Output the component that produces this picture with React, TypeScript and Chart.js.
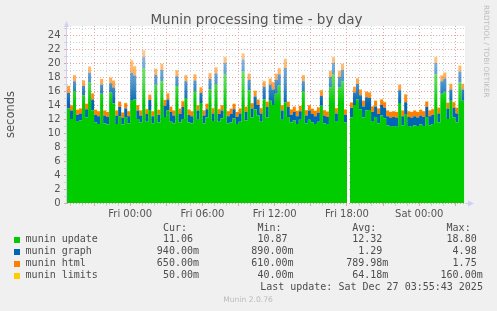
import React, { useEffect, useRef } from 'react';
import { Chart, registerables } from 'chart.js';

Chart.register(...registerables);

// Samples every 15 minutes, starting Thu 18:45 (minutes relative to Fri 00:00)
const START_MIN = -315;
const STEP_MIN = 15;
const X_MIN = -315;
const X_MAX = 1668;

const X_LABEL_VALUES = [0, 360, 720, 1080, 1440];
const X_LABELS = ['Fri 00:00', 'Fri 06:00', 'Fri 12:00', 'Fri 18:00', 'Sat 00:00'];

const SERIES_NAMES = ['munin update', 'munin graph', 'munin html', 'munin limits'];
const SERIES_RGB = [
  [0, 204, 0],
  [0, 102, 179],
  [255, 128, 0],
  [255, 204, 0],
];

const CUR = ['11.06 ', '940.00m', '650.00m', '50.00m'];
const MIN = ['10.87 ', '890.00m', '610.00m', '40.00m'];
const AVG = ['12.32 ', '1.29 ', '789.98m', '64.18m'];
const MAX = ['18.80 ', '4.98 ', '1.75 ', '160.00m'];
const LAST_UPDATE = 'Last update: Sat Dec 27 03:55:43 2025';

// seconds (null = unknown sample)
const UPDATE = [
  13.5, 12.0, 16.0, 11.6, 11.8, 15.4, 12.2, 17.2, 13.2, 11.5,
  11.3, 15.6, 11.4, 11.2, 15.8, 14.2, 11.3, 12.4, 11.2, 12.3,
  11.4, 14.6, 14.8, 12.0, 11.5, 19.3, 11.6, 13.3, 11.4, 16.9,
  11.5, 17.4, 12.3, 13.2, 11.6, 11.4, 16.7, 11.5, 12.0, 15.0,
  11.5, 11.4, 16.0, 11.9, 14.3, 11.4, 12.2, 16.2, 11.7, 17.0,
  11.6, 12.1, 18.4, 11.4, 11.5, 12.1, 11.3, 11.6, 18.8, 11.8,
  16.1, 12.2, 13.4, 12.5, 11.6, 14.8, 12.2, 14.6, 14.0, 15.6,
  16.8, 11.9, 14.4, 12.3, 11.5, 11.8, 11.3, 11.9, 16.0, 11.4,
  11.9, 11.5, 11.3, 11.6, 13.9, 11.4, 11.3, 16.5, 18.4, 11.6,
  16.5, 17.4, 11.5, null, 12.2, 14.0, 14.8, 13.4, 12.2, 13.2,
  13.3, 11.6, 12.3, 11.4, 12.5, 12.1, 11.1, 10.9, 11.0, 10.9,
  14.3, 11.1, 12.6, 11.0, 10.9, 11.1, 11.0, 11.2, 11.0, 12.3,
  11.1, 11.3, 18.4, 11.5, 15.6, 15.9, 12.0, 14.6, 12.2, 11.5,
  17.2, 14.6, 11.06,
];

const GRAPH = [
  2.2, 1.2, 1.4, 1.0, 1.0, 1.3, 1.2, 1.4, 1.6, 1.1,
  1.1, 1.3, 1.1, 1.1, 1.3, 2.3, 1.2, 1.3, 1.0, 1.2,
  1.0, 4.0, 3.4, 1.2, 1.0, 1.6, 1.1, 1.4, 1.0, 1.4,
  1.1, 1.6, 1.6, 1.6, 1.4, 1.1, 1.4, 1.2, 1.7, 2.4,
  1.1, 1.0, 1.5, 1.3, 1.4, 1.1, 1.2, 1.5, 1.1, 1.5,
  1.1, 1.1, 1.6, 1.0, 1.2, 1.3, 1.0, 1.2, 1.7, 1.2,
  1.5, 1.3, 1.8, 1.5, 1.2, 1.8, 1.5, 2.3, 2.2, 2.0,
  1.6, 1.3, 4.9, 1.4, 1.1, 1.2, 1.1, 1.2, 1.4, 1.1,
  1.3, 1.2, 1.1, 1.3, 1.4, 1.1, 1.0, 1.5, 1.6, 1.2,
  1.5, 1.6, 1.1, null, 1.4, 1.8, 2.2, 2.0, 1.6, 1.9,
  1.7, 1.4, 1.5, 1.3, 1.5, 1.5, 1.3, 1.3, 1.3, 1.3,
  1.8, 1.3, 1.8, 1.3, 1.3, 1.3, 1.2, 1.3, 1.3, 1.4,
  1.3, 1.3, 1.6, 1.3, 1.8, 1.9, 1.5, 1.6, 1.4, 1.3,
  1.6, 1.6, 0.94,
];

const HTML = [
  1.0, 0.75, 0.85, 0.7, 0.7, 0.8, 0.75, 0.85, 0.85, 0.7,
  0.7, 0.8, 0.7, 0.7, 0.8, 0.95, 0.7, 0.75, 0.7, 0.75,
  0.7, 1.7, 1.3, 0.75, 0.7, 0.9, 0.7, 0.75, 0.7, 0.85,
  0.7, 0.85, 0.8, 0.85, 0.75, 0.7, 0.85, 0.75, 0.85, 0.85,
  0.75, 0.7, 0.85, 0.75, 0.8, 0.7, 0.75, 0.85, 0.75, 0.85,
  0.7, 0.75, 0.85, 0.7, 0.75, 0.75, 0.7, 0.7, 0.85, 0.75,
  0.85, 0.75, 0.8, 0.75, 0.75, 0.8, 0.75, 0.85, 1.05, 0.85,
  0.85, 0.75, 1.25, 0.75, 0.75, 0.75, 0.75, 0.75, 0.85, 0.75,
  0.75, 0.75, 0.75, 0.75, 0.8, 0.75, 0.75, 0.85, 0.85, 0.75,
  0.85, 0.85, 0.75, null, 0.75, 0.8, 0.8, 0.8, 0.8, 0.8,
  0.8, 0.8, 0.8, 0.8, 0.8, 0.8, 0.8, 0.8, 0.8, 0.8,
  0.8, 0.8, 1.1, 0.8, 0.8, 0.8, 0.8, 0.8, 0.8, 0.8,
  0.8, 0.8, 0.85, 0.8, 0.8, 0.8, 0.8, 0.8, 0.8, 0.8,
  0.8, 0.8, 0.65,
];

const LIMITS = [
  0.09, 0.05, 0.07, 0.05, 0.05, 0.06, 0.05, 0.08, 0.06, 0.05,
  0.05, 0.07, 0.05, 0.05, 0.07, 0.08, 0.05, 0.06, 0.05, 0.06,
  0.05, 0.16, 0.12, 0.05, 0.05, 0.09, 0.05, 0.06, 0.05, 0.07,
  0.05, 0.08, 0.06, 0.06, 0.05, 0.05, 0.07, 0.05, 0.06, 0.08,
  0.05, 0.05, 0.07, 0.05, 0.06, 0.05, 0.05, 0.07, 0.05, 0.08,
  0.05, 0.05, 0.09, 0.05, 0.05, 0.06, 0.05, 0.05, 0.1, 0.05,
  0.07, 0.05, 0.06, 0.06, 0.05, 0.07, 0.05, 0.08, 0.08, 0.07,
  0.08, 0.05, 0.14, 0.06, 0.05, 0.05, 0.05, 0.05, 0.07, 0.05,
  0.05, 0.05, 0.05, 0.05, 0.06, 0.05, 0.05, 0.07, 0.09, 0.05,
  0.07, 0.08, 0.05, null, 0.05, 0.06, 0.07, 0.06, 0.05, 0.06,
  0.06, 0.05, 0.05, 0.05, 0.05, 0.05, 0.04, 0.04, 0.04, 0.04,
  0.06, 0.04, 0.06, 0.04, 0.04, 0.05, 0.04, 0.05, 0.04, 0.05,
  0.05, 0.05, 0.09, 0.05, 0.07, 0.07, 0.05, 0.06, 0.05, 0.05,
  0.08, 0.06, 0.05,
];

const SERIES = [UPDATE, GRAPH, HTML, LIMITS];
const TIMES = UPDATE.map((_, i) => START_MIN + i * STEP_MIN);

const MAJOR = '#e8a2a2';
const MINOR = '#d2d2d2';
const AXIS = '#cfcff5';
const TEXT = '#555555';

const rgba = (c: number[], a: number) => `rgba(${c[0]},${c[1]},${c[2]},${a})`;
const hex = (c: number[]) => rgba(c, 1);

const plotDecor = {
  id: 'plotDecor',
  beforeDraw(chart: any) {
    const { ctx, chartArea: a } = chart;
    ctx.save();
    ctx.fillStyle = '#ffffff';
    ctx.fillRect(a.left, a.top, a.right - a.left, a.bottom - a.top);
    ctx.restore();
  },
  afterDraw(chart: any) {
    const { ctx, chartArea: a } = chart;
    ctx.save();
    ctx.fillStyle = AXIS;
    ctx.strokeStyle = AXIS;
    ctx.lineWidth = 1;
    ctx.beginPath();
    ctx.moveTo(a.left - 0.5, a.top);
    ctx.lineTo(a.left - 0.5, a.bottom);
    ctx.stroke();
    ctx.beginPath();
    ctx.moveTo(a.left - 3, a.top + 1);
    ctx.lineTo(a.left + 2, a.top + 1);
    ctx.lineTo(a.left - 0.5, a.top - 5);
    ctx.closePath();
    ctx.fill();
    ctx.beginPath();
    ctx.moveTo(a.right, a.bottom + 0.5);
    ctx.lineTo(a.right + 3, a.bottom + 0.5);
    ctx.stroke();
    ctx.beginPath();
    ctx.moveTo(a.right + 3, a.bottom - 2.5);
    ctx.lineTo(a.right + 3, a.bottom + 3.5);
    ctx.lineTo(a.right + 9, a.bottom + 0.5);
    ctx.closePath();
    ctx.fill();
    ctx.restore();
  },
};

export default function App() {
  const ref = useRef<HTMLCanvasElement | null>(null);

  useEffect(() => {
    if (!ref.current) return;
    const datasets = SERIES.map((arr, k) => ({
      label: SERIES_NAMES[k],
      data: arr.map((v, i) => ({ x: TIMES[i], y: v ?? 0 })),
      backgroundColor: (c: any) => {
        const chart = c.chart;
        const ys = chart.scales && chart.scales.y;
        if (!ys || !chart.chartArea) return hex(SERIES_RGB[k]);
        const y0 = ys.getPixelForValue(0);
        const y1 = ys.getPixelForValue(25);
        const g = chart.ctx.createLinearGradient(0, y0, 0, y1);
        const col = SERIES_RGB[k];
        g.addColorStop(0, rgba(col, 1));
        g.addColorStop(14.2 / 25, rgba(col, 1));
        g.addColorStop(17 / 25, rgba(col, 0.7));
        g.addColorStop(21 / 25, rgba(col, 0.45));
        g.addColorStop(1, rgba(col, 0.35));
        return g;
      },
      borderColor: hex(SERIES_RGB[k]),
      borderWidth: 0,
      pointRadius: 0,
      stepped: 'before' as const,
      fill: k === 0 ? 'origin' : '-1',
    }));

    const chart = new Chart(ref.current, {
      type: 'line',
      data: { datasets },
      plugins: [plotDecor],
      options: {
        animation: false,
        responsive: false,
        maintainAspectRatio: false,
        events: [],
        layout: { padding: { top: 26, right: 32, bottom: 89, left: 0 } },
        plugins: {
          legend: { display: false },
          tooltip: { enabled: false },
          title: { display: false },
        },
        scales: {
          x: {
            type: 'linear',
            min: X_MIN,
            max: X_MAX,
            afterBuildTicks: (s: any) => {
              const t = [];
              for (let v = -300; v <= 1620; v += 60) t.push({ value: v });
              s.ticks = t;
            },
            afterFit: (s: any) => {
              s.height = 19;
            },
            ticks: {
              autoSkip: false,
              maxRotation: 0,
              padding: 2,
              color: TEXT,
              font: { family: 'DejaVu Sans', size: 10 },
              callback: (v: any) => {
                const idx = X_LABEL_VALUES.indexOf(Number(v));
                return idx >= 0 ? X_LABELS[idx] : '';
              },
            },
            grid: {
              color: (c: any) => (c.tick && c.tick.value % 180 === 0 ? MAJOR : MINOR),
              lineWidth: 1,
              tickLength: 3,
              drawTicks: true,
            },
            border: { display: false, dash: [1, 2] },
          },
          y: {
            type: 'linear',
            stacked: true,
            min: 0,
            max: 25.29,
            afterBuildTicks: (s: any) => {
              const t = [];
              for (let v = 0; v <= 25; v += 1) t.push({ value: v });
              s.ticks = t;
            },
            afterFit: (s: any) => {
              s.width = 67;
            },
            ticks: {
              autoSkip: false,
              padding: 3.5,
              color: TEXT,
              font: { family: 'DejaVu Sans', size: 10 },
              callback: (v: any) => (Number(v) % 2 === 0 ? String(v) : ''),
            },
            grid: {
              color: (c: any) => (c.tick && c.tick.value % 2 === 0 ? MAJOR : MINOR),
              lineWidth: 1,
              tickLength: 3,
              drawTicks: true,
            },
            border: { display: false, dash: [1, 2] },
            title: {
              display: true,
              text: 'seconds',
              color: TEXT,
              font: { family: 'DejaVu Sans', size: 11.5 },
              padding: { top: 3.8, bottom: 0 },
            },
          },
        },
      },
    } as any);
    return () => chart.destroy();
  }, []);

  const mono = '10px "DejaVu Sans Mono"';
  const rowTops = [234.2, 246.2, 258.2, 270.2];
  const valueEdges = [199, 293.5, 388.3, 482.7];
  const cols = [CUR, MIN, AVG, MAX];
  const headers = ['Cur:  ', 'Min:  ', 'Avg:  ', 'Max:  '];

  const textStyle = (top: number, right?: number, left?: number): React.CSSProperties => ({
    position: 'absolute',
    top,
    ...(right !== undefined ? { right: 497 - right } : {}),
    ...(left !== undefined ? { left } : {}),
    font: mono,
    lineHeight: '10px',
    color: '#4d4d4d',
    whiteSpace: 'pre',
  });

  return (
    <div
      style={{
        position: 'absolute',
        left: 0,
        top: 0,
        width: 497,
        height: 311,
        background: '#f0f0f0',
        overflow: 'hidden',
      }}
    >
      <canvas
        ref={ref}
        width={497}
        height={311}
        style={{ position: 'absolute', left: 0, top: 0, width: 497, height: 311 }}
      />
      <div
        style={{
          position: 'absolute',
          left: 0,
          top: 12.6,
          width: 513,
          textAlign: 'center',
          font: '13.5px "DejaVu Sans"',
          lineHeight: '13.5px',
          color: TEXT,
          whiteSpace: 'pre',
        }}
      >
        Munin processing time - by day
      </div>
      <div
        style={{
          position: 'absolute',
          left: 483,
          top: 4.5,
          writingMode: 'vertical-rl',
          font: '7.2px "DejaVu Sans"',
          lineHeight: '7.2px',
          color: '#bdbdbd',
          whiteSpace: 'pre',
        }}
      >
        RRDTOOL / TOBI OETIKER
      </div>
      {headers.map((h, j) => (
        <div key={'h' + j} style={textStyle(222.5, valueEdges[j])}>
          {h}
        </div>
      ))}
      {SERIES_NAMES.map((name, k) => (
        <React.Fragment key={name}>
          <div
            style={{
              position: 'absolute',
              left: 14,
              top: rowTops[k] + 2.5,
              width: 6,
              height: 6,
              background: hex(SERIES_RGB[k]),
            }}
          />
          <div style={textStyle(rowTops[k], undefined, 25.6)}>{name}</div>
          {cols.map((col, j) => (
            <div key={j} style={textStyle(rowTops[k], valueEdges[j])}>
              {col[k].endsWith('m') || col[k].endsWith(' ') ? col[k] : col[k] + ' '}
            </div>
          ))}
        </React.Fragment>
      ))}
      <div style={textStyle(282.2, 482.9)}>{LAST_UPDATE}</div>
      <div
        style={{
          position: 'absolute',
          left: 0,
          top: 296.1,
          width: 496,
          textAlign: 'center',
          font: '7.6px "DejaVu Sans"',
          lineHeight: '7.6px',
          color: '#bbbbbb',
          whiteSpace: 'pre',
        }}
      >
        Munin 2.0.76
      </div>
    </div>
  );
}
